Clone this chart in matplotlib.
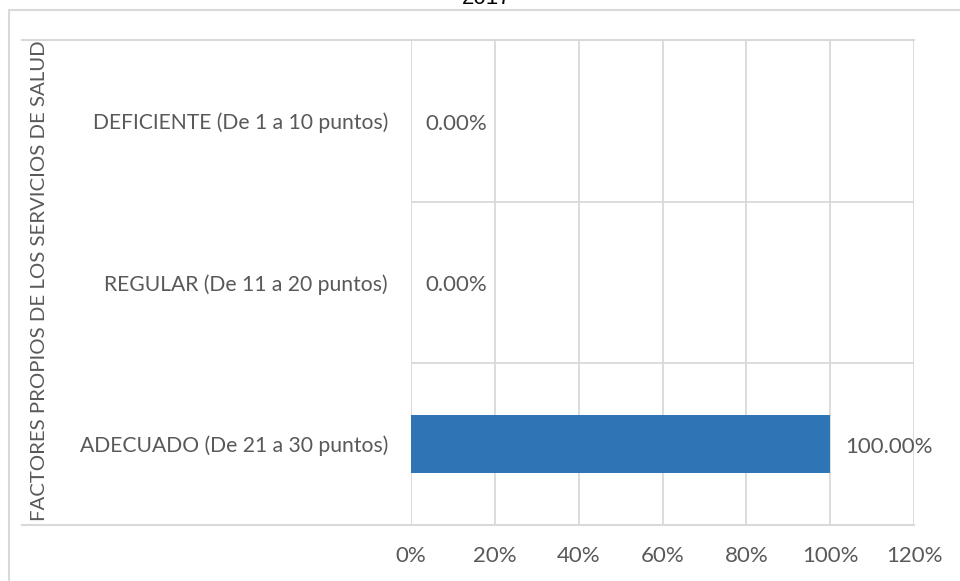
import matplotlib
matplotlib.use("Agg")
import matplotlib.pyplot as plt
from matplotlib.lines import Line2D

categories = ["ADECUADO (De 21 a 30 puntos)", "REGULAR (De 11 a 20 puntos)", "DEFICIENTE (De 1 a 10 puntos)"]
values = [1.0, 0.0, 0.0]
xticks = [0, 0.2, 0.4, 0.6, 0.8, 1.0, 1.2]
xticklabels = ["0%", "20%", "40%", "60%", "80%", "100%", "120%"]
ylabel = "FACTORES PROPIOS DE LOS SERVICIOS DE SALUD"
title = "2017"

W, H = 960, 581
DPI = 100
TXT = "#595959"
GRID = "#D9D9D9"
BAR = "#2E75B6"
FONT = "Lato"

fig = plt.figure(figsize=(W / DPI, H / DPI), dpi=DPI)
fig.patch.set_facecolor("white")

L, R, T, B = 411, 914, 40, 525
ax = fig.add_axes([L / W, 1 - B / H, (R - L) / W, (B - T) / H])
ax.set_facecolor("white")

ypos = list(range(len(categories)))
ax.barh(ypos, values, height=0.36, color=BAR, zorder=3)

ax.set_xlim(0, 1.2)
ax.set_ylim(-0.5, len(categories) - 0.5)
ax.set_xticks(xticks)
ax.set_xticklabels(xticklabels, fontsize=16, color=TXT, family=FONT)
ax.set_yticks(ypos)
ax.set_yticklabels(categories, fontsize=15.2, color=TXT, family=FONT)
ax.set_yticks([i + 0.5 for i in ypos[:-1]], minor=True)
ax.tick_params(axis="both", which="both", length=0)
ax.tick_params(axis="y", pad=16.5)
ax.tick_params(axis="x", pad=15)
ax.grid(axis="x", which="major", color=GRID, linewidth=1.3, zorder=0)
ax.grid(axis="y", which="minor", color=GRID, linewidth=1.3, zorder=0)
for s in ax.spines.values():
    s.set_visible(False)

for y, v in zip(ypos, values):
    ax.annotate(f"{v * 100:.2f}%", xy=(v, y), xytext=(10.5, -2), textcoords="offset points",
                va="center", ha="left", fontsize=16, color=TXT, family=FONT)

# top and bottom lines extending across the category labels
for yy in (T, B):
    fig.add_artist(Line2D([22 / W, R / W], [1 - yy / H, 1 - yy / H], color=GRID, linewidth=1.5,
                          transform=fig.transFigure))

# outer chart border (partially visible)
fig.add_artist(Line2D([9 / W, 9 / W, 1.0], [0.0, 1 - 10 / H, 1 - 10 / H], color=GRID, linewidth=1.5,
                      transform=fig.transFigure))

fig.text(40 / W, 1 - 281 / H, ylabel, rotation=90, ha="center", va="center",
         fontsize=14.7, color=TXT, family=FONT)
fig.text(487 / W, 1 - 4.5 / H, title, ha="center", va="baseline", fontsize=16, color="black",
         family="Liberation Sans")

fig.savefig("out.png", dpi=DPI, facecolor="white")
